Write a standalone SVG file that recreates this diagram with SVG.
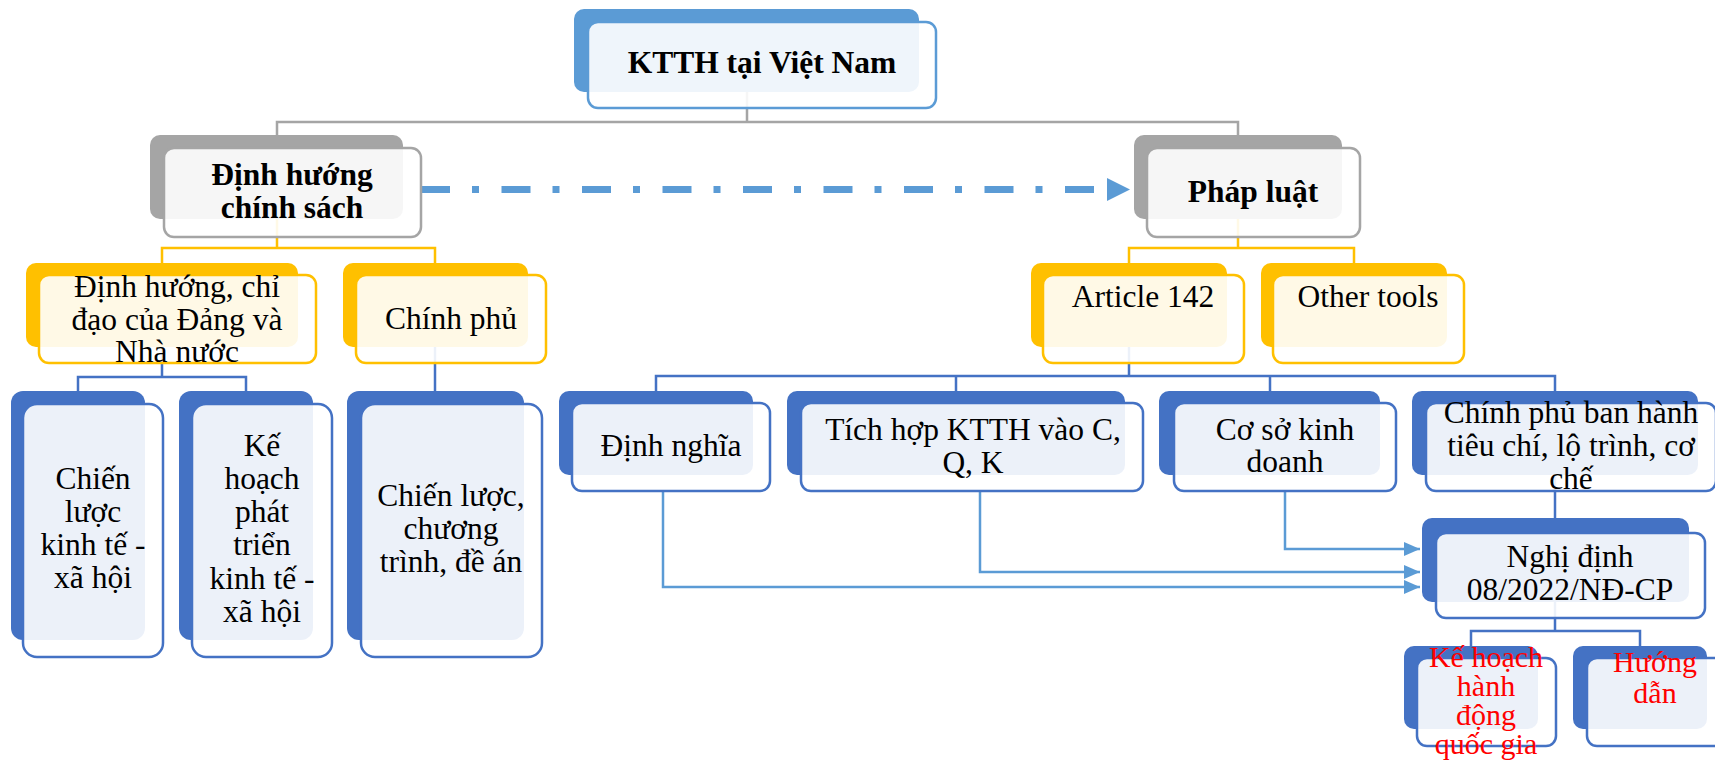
<svg xmlns="http://www.w3.org/2000/svg" width="1715" height="764" viewBox="0 0 1715 764">
  <defs>
    <style>
      .bk { stroke: none; }
      .fr { fill: #ffffff; fill-opacity: 0.9; stroke-width: 2.5; }
      .b0 { fill: #5B9BD5; } .f0 { stroke: #5B9BD5; }
      .b1 { fill: #A5A5A5; } .f1 { stroke: #A5A5A5; }
      .b2 { fill: #FFC000; } .f2 { stroke: #FFC000; }
      .b3 { fill: #4472C4; } .f3 { stroke: #4472C4; }
      .t { font-family: "Liberation Serif", "Times New Roman", serif; font-size: 31.5px; fill: #000000; text-anchor: middle; }
      .bold { font-weight: bold; }
      .red { fill: #FF0000; font-size: 30px; }
      .ln { fill: none; stroke-width: 2.5; }
      .gray { stroke: #A5A5A5; }
      .yel { stroke: #FFC000; }
      .blu { stroke: #4472C4; }
      .lbl { stroke: #5B9BD5; }
    </style>
    <marker id="arr" markerUnits="userSpaceOnUse" markerWidth="16" markerHeight="14" refX="16" refY="7" orient="auto">
      <path d="M0,0 L16,7 L0,14 Z" fill="#5B9BD5"/>
    </marker>
    <marker id="bigarr" markerUnits="userSpaceOnUse" markerWidth="23" markerHeight="23" refX="0" refY="11.5" orient="auto">
      <path d="M0,0 L23,11.5 L0,23 Z" fill="#5B9BD5"/>
    </marker>
  </defs>

  <!-- connectors -->
  <g id="connectors">
    <path class="ln gray" d="M747,92 V122 M277,135 V122 H1238 V135"/>
    <path class="ln yel" d="M277,219 V248 M162,263 V248 H435 V263"/>
    <path class="ln yel" d="M1238,219 V248 M1129,263 V248 H1354 V263"/>
    <path class="ln blu" d="M162,347 V377 M78,391 V377 H246 V391"/>
    <path class="ln blu" d="M435,347 V391"/>
    <path class="ln blu" d="M1129,347 V376 M656,391 V376 H1555 V391 M956,376 V391 M1270,376 V391"/>
    <path class="ln blu" d="M1555,475 V518"/>
    <path class="ln blu" d="M1555,602 V631 M1471,646 V631 H1640 V646"/>
    <path class="ln lbl" d="M1285,491 V549 H1420" marker-end="url(#arr)"/>
    <path class="ln lbl" d="M980,491 V572 H1420" marker-end="url(#arr)"/>
    <path class="ln lbl" d="M663,491 V587 H1420" marker-end="url(#arr)"/>
    <line x1="421" y1="189.5" x2="1107" y2="189.5" stroke="#5B9BD5" stroke-width="7" stroke-dasharray="29 22 7 22.5" marker-end="url(#bigarr)"/>
  </g>

  <!-- level 0 -->
  <g id="ktth">
    <rect class="bk b0" x="574" y="9" width="345" height="83" rx="10"/>
    <rect class="fr f0" x="588" y="22" width="348" height="86" rx="10"/>
    <text class="t bold" x="762" y="73">KTTH tại Việt Nam</text>
  </g>

  <!-- level 1 -->
  <g id="dinh-huong-chinh-sach">
    <rect class="bk b1" x="150" y="135" width="253" height="84" rx="10"/>
    <rect class="fr f1" x="164" y="148" width="257" height="89" rx="10"/>
    <text class="t bold" x="292" y="185">Định hướng</text>
    <text class="t bold" x="292" y="218">chính sách</text>
  </g>
  <g id="phap-luat">
    <rect class="bk b1" x="1134" y="135" width="208" height="84" rx="10"/>
    <rect class="fr f1" x="1147" y="148" width="213" height="89" rx="10"/>
    <text class="t bold" x="1253" y="202">Pháp luật</text>
  </g>

  <!-- level 2 -->
  <g id="dinh-huong-chi-dao">
    <rect class="bk b2" x="26" y="263" width="272" height="84" rx="10"/>
    <rect class="fr f2" x="39" y="275" width="277" height="88" rx="10"/>
    <text class="t" x="177" y="297">Định hướng, chỉ</text>
    <text class="t" x="177" y="330">đạo của Đảng và</text>
    <text class="t" x="177" y="362">Nhà nước</text>
  </g>
  <g id="chinh-phu">
    <rect class="bk b2" x="343" y="263" width="185" height="84" rx="10"/>
    <rect class="fr f2" x="356" y="275" width="190" height="88" rx="10"/>
    <text class="t" x="451" y="329">Chính phủ</text>
  </g>
  <g id="article-142">
    <rect class="bk b2" x="1031" y="263" width="196" height="84" rx="10"/>
    <rect class="fr f2" x="1043" y="275" width="201" height="88" rx="10"/>
    <text class="t" x="1143" y="307">Article 142</text>
  </g>
  <g id="other-tools">
    <rect class="bk b2" x="1261" y="263" width="186" height="84" rx="10"/>
    <rect class="fr f2" x="1273" y="275" width="191" height="88" rx="10"/>
    <text class="t" x="1368" y="307">Other tools</text>
  </g>

  <!-- level 3, left branch -->
  <g id="chien-luoc-ktxh">
    <rect class="bk b3" x="11" y="391" width="134" height="249" rx="12"/>
    <rect class="fr f3" x="23" y="404" width="140" height="253" rx="14"/>
    <text class="t" x="93" y="489">Chiến</text>
    <text class="t" x="93" y="522">lược</text>
    <text class="t" x="93" y="555">kinh tế -</text>
    <text class="t" x="93" y="588">xã hội</text>
  </g>
  <g id="ke-hoach-ptktxh">
    <rect class="bk b3" x="179" y="391" width="134" height="249" rx="12"/>
    <rect class="fr f3" x="192" y="404" width="140" height="253" rx="14"/>
    <text class="t" x="262" y="456">Kế</text>
    <text class="t" x="262" y="489">hoạch</text>
    <text class="t" x="262" y="522">phát</text>
    <text class="t" x="262" y="555">triển</text>
    <text class="t" x="262" y="589">kinh tế -</text>
    <text class="t" x="262" y="622">xã hội</text>
  </g>
  <g id="chien-luoc-chuong-trinh">
    <rect class="bk b3" x="347" y="391" width="177" height="249" rx="12"/>
    <rect class="fr f3" x="361" y="404" width="181" height="253" rx="14"/>
    <text class="t" x="451" y="506">Chiến lược,</text>
    <text class="t" x="451" y="539">chương</text>
    <text class="t" x="451" y="572">trình, đề án</text>
  </g>

  <!-- level 3, right branch -->
  <g id="dinh-nghia">
    <rect class="bk b3" x="559" y="391" width="194" height="84" rx="10"/>
    <rect class="fr f3" x="572" y="403" width="198" height="88" rx="10"/>
    <text class="t" x="671" y="456">Định nghĩa</text>
  </g>
  <g id="tich-hop">
    <rect class="bk b3" x="787" y="391" width="338" height="84" rx="10"/>
    <rect class="fr f3" x="801" y="403" width="342" height="88" rx="10"/>
    <text class="t" x="973" y="440">Tích hợp KTTH vào C,</text>
    <text class="t" x="973" y="473">Q, K</text>
  </g>
  <g id="co-so-kinh-doanh">
    <rect class="bk b3" x="1159" y="391" width="221" height="84" rx="10"/>
    <rect class="fr f3" x="1174" y="403" width="222" height="88" rx="10"/>
    <text class="t" x="1285" y="440">Cơ sở kinh</text>
    <text class="t" x="1285" y="472">doanh</text>
  </g>
  <g id="chinh-phu-ban-hanh">
    <rect class="bk b3" x="1412" y="391" width="286" height="84" rx="10"/>
    <rect class="fr f3" x="1426" y="403" width="290" height="88" rx="10"/>
    <text class="t" x="1571" y="423">Chính phủ ban hành</text>
    <text class="t" x="1571" y="456">tiêu chí, lộ trình, cơ</text>
    <text class="t" x="1571" y="489">chế</text>
  </g>
  <g id="nghi-dinh">
    <rect class="bk b3" x="1422" y="518" width="267" height="84" rx="10"/>
    <rect class="fr f3" x="1436" y="533" width="269" height="85" rx="10"/>
    <text class="t" x="1570" y="567">Nghị định</text>
    <text class="t" x="1570" y="600">08/2022/NĐ-CP</text>
  </g>
  <g id="ke-hoach-hanh-dong">
    <rect class="bk b3" x="1404" y="646" width="134" height="83" rx="10"/>
    <rect class="fr f3" x="1417" y="658" width="139" height="88" rx="10"/>
    <text class="t red" x="1486" y="667">Kế hoạch</text>
    <text class="t red" x="1486" y="696">hành</text>
    <text class="t red" x="1486" y="725">động</text>
    <text class="t red" x="1486" y="754">quốc gia</text>
  </g>
  <g id="huong-dan">
    <rect class="bk b3" x="1573" y="646" width="134" height="83" rx="10"/>
    <rect class="fr f3" x="1587" y="658" width="139" height="88" rx="10"/>
    <text class="t red" x="1655" y="672">Hướng</text>
    <text class="t red" x="1655" y="703">dẫn</text>
  </g>
</svg>
